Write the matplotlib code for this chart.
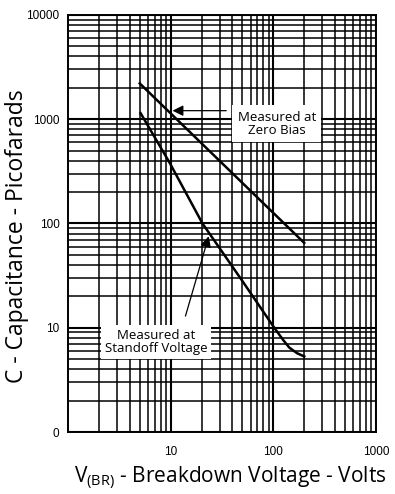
import matplotlib
matplotlib.use("Agg")
import matplotlib.pyplot as plt
from matplotlib.ticker import FixedLocator, FixedFormatter, LogLocator, NullFormatter

plt.rcParams['mathtext.fontset'] = 'custom'
plt.rcParams['mathtext.rm'] = 'Open Sans'

# curve data
zero_bias_v = [5.0, 200]
zero_bias_c = [2200, 65]
standoff_v = [5.1, 9.8, 20.4, 50, 102, 125, 143, 170, 200]
standoff_c = [1140, 380, 100, 28, 10, 7.6, 6.45, 5.7, 5.3]

x_ticks = [10, 100, 1000]
x_labels = ['10', '100', '1000']
y_ticks = [1, 10, 100, 1000, 10000]
y_labels = ['0', '10', '100', '1000', '10000']

fig = plt.figure(figsize=(3.95, 4.94), dpi=100)
ax = fig.add_axes([0.172, 0.1255, 0.78, 0.8445])
ax.set_xscale('log')
ax.set_yscale('log')
ax.set_xlim(1, 1000)
ax.set_ylim(1, 10000)

# the dense datasheet grid
ax.xaxis.set_major_locator(FixedLocator(x_ticks))
ax.xaxis.set_major_formatter(FixedFormatter(x_labels))
ax.yaxis.set_major_locator(FixedLocator(y_ticks))
ax.yaxis.set_major_formatter(FixedFormatter(y_labels))
ax.xaxis.set_minor_locator(LogLocator(base=10, subs=range(2, 10)))
ax.yaxis.set_minor_locator(LogLocator(base=10, subs=range(2, 10)))
ax.xaxis.set_minor_formatter(NullFormatter())
ax.yaxis.set_minor_formatter(NullFormatter())
ax.grid(True, which='major', color='black', lw=1.5)
ax.grid(True, which='minor', color='black', lw=1.1)
ax.tick_params(axis='y', which='both', length=0, labelsize=8.5, pad=6)
ax.tick_params(axis='x', which='both', length=0, labelsize=8.5, pad=10)
for lab in ax.get_xticklabels() + ax.get_yticklabels():
    lab.set_family('Liberation Sans')
for sp in ax.spines.values():
    sp.set_color('black')
    sp.set_linewidth(1.4)

ax.plot(zero_bias_v, zero_bias_c, color='black', lw=1.8)
ax.plot(standoff_v, standoff_c, color='black', lw=1.8)

# callout boxes
ax.text(108, 906, 'Measured at\nZero Bias', ha='center', va='center', fontsize=9.5,
        family='Open Sans', linespacing=1.0,
        bbox=dict(boxstyle='square,pad=0.4', fc='white', ec='none'))
ax.annotate('', xy=(9.8, 1205), xytext=(37, 1205),
            arrowprops=dict(arrowstyle='-|>', color='black', lw=0.9,
                            mutation_scale=16))
ax.text(7.2, 7.36, 'Measured at\nStandoff Voltage', ha='center', va='center', fontsize=9.5,
        family='Open Sans', linespacing=1.0,
        bbox=dict(boxstyle='square,pad=0.3', fc='white', ec='none'))
ax.annotate('', xy=(23.9, 80), xytext=(13.7, 12.2),
            arrowprops=dict(arrowstyle='-|>', color='black', lw=0.9,
                            mutation_scale=16))

ax.set_ylabel('C - Capacitance - Picofarads', fontsize=16.5, family='Open Sans')
ax.yaxis.set_label_coords(-0.128, 0.47)
ax.set_xlabel(r'V$_{\mathrm{(BR)}}$ - Breakdown Voltage - Volts', fontsize=15,
              family='Open Sans')
ax.xaxis.set_label_coords(0.526, -0.078)

fig.savefig('out.png', dpi=100)
